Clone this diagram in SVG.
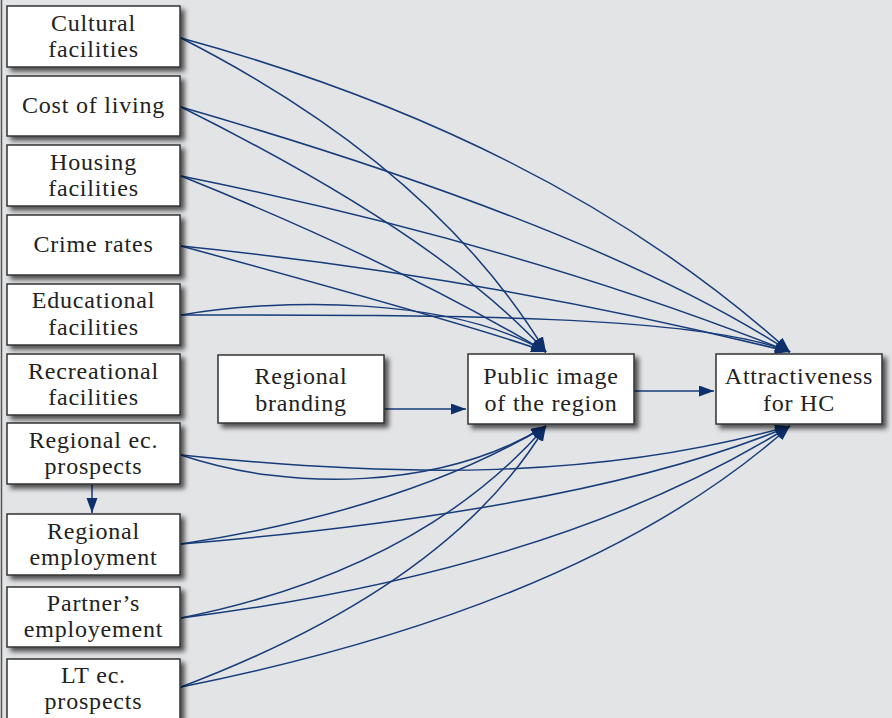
<svg xmlns="http://www.w3.org/2000/svg" width="892" height="718" viewBox="0 0 892 718">
<style>
.box{fill:#ffffff;stroke:#333333;stroke-width:1.5;filter:url(#sh)}
.t{font-size:24px;letter-spacing:0.8px;fill:#222222;text-anchor:middle}
.c{fill:none;stroke:#163c7a;stroke-width:1.5;marker-end:url(#ah)}
</style>
<defs>
<filter id="sh" x="-10%" y="-10%" width="130%" height="140%">
<feDropShadow dx="4" dy="4" stdDeviation="2.5" flood-color="#000" flood-opacity="0.65"/>
</filter>
<marker id="ah" markerUnits="userSpaceOnUse" markerWidth="16" markerHeight="12" refX="15" refY="5.5" orient="auto">
<path d="M0,0 L15,5.5 L0,11 z" fill="#0d2f6b"/>
</marker>
</defs>
<rect x="0" y="0" width="892" height="718" fill="#e3e4e6"/>
<line x1="1.5" y1="0" x2="1.5" y2="718" stroke="#555" stroke-width="1.5"/>

<g id="connectors">
<path class="c" d="M181,38 Q555,140 790,352"/>
<path class="c" d="M181,38 Q434,167 546,352"/>
<path class="c" d="M181,107 Q600,228 790,352"/>
<path class="c" d="M181,107 Q442,237 546,352"/>
<path class="c" d="M181,176 Q519,244 790,352"/>
<path class="c" d="M181,176 Q395,262 546,352"/>
<path class="c" d="M181,246 Q489,277 790,352"/>
<path class="c" d="M181,246 Q482,328 546,352"/>
<path class="c" d="M181,315 C450,315 700,315 790,352"/>
<path class="c" d="M181,315 C280,298 450,296 546,352"/>
<path class="c" d="M181,455 C400,478 600,480 790,426"/>
<path class="c" d="M181,455 C290,492 440,490 546,426"/>
<path class="c" d="M181,544 Q590,510 790,426"/>
<path class="c" d="M181,544 Q405,510 546,426"/>
<path class="c" d="M181,618 Q560,570 790,426"/>
<path class="c" d="M181,618 Q420,570 546,426"/>
<path class="c" d="M181,687 Q590,605 790,426"/>
<path class="c" d="M181,687 Q450,585 546,426"/>
<path class="c" d="M92,484 L92,513"/>
<path class="c" d="M384,409 L466,409"/>
<path class="c" d="M634,391 L714,391"/>
</g>

<g font-family="'Liberation Serif', 'Times New Roman', 'DejaVu Serif', serif">
<g id="cultural"><rect class="box" x="7" y="6" width="173" height="61"/><text class="t" x="93.5" y="31">Cultural</text><text class="t" x="93.5" y="57">facilities</text></g>
<g id="cost"><rect class="box" x="7" y="76" width="173" height="60"/><text class="t" x="93.5" y="113">Cost of living</text></g>
<g id="housing"><rect class="box" x="7" y="145" width="173" height="61"/><text class="t" x="93.5" y="170">Housing</text><text class="t" x="93.5" y="196">facilities</text></g>
<g id="crime"><rect class="box" x="7" y="215" width="173" height="60"/><text class="t" x="93.5" y="252">Crime rates</text></g>
<g id="educational"><rect class="box" x="7" y="284" width="173" height="61"/><text class="t" x="93.5" y="308">Educational</text><text class="t" x="93.5" y="335">facilities</text></g>
<g id="recreational"><rect class="box" x="7" y="354" width="173" height="61"/><text class="t" x="93.5" y="379">Recreational</text><text class="t" x="93.5" y="405">facilities</text></g>
<g id="regional-ec"><rect class="box" x="7" y="423" width="173" height="61"/><text class="t" x="93.5" y="448">Regional ec.</text><text class="t" x="93.5" y="474">prospects</text></g>
<g id="regional-employment"><rect class="box" x="7" y="514" width="173" height="61"/><text class="t" x="93.5" y="539">Regional</text><text class="t" x="93.5" y="565">employment</text></g>
<g id="partner"><rect class="box" x="7" y="587" width="173" height="60"/><text class="t" x="93.5" y="611">Partner’s</text><text class="t" x="93.5" y="637">employement</text></g>
<g id="lt"><rect class="box" x="7" y="659" width="173" height="62"/><text class="t" x="93.5" y="683">LT ec.</text><text class="t" x="93.5" y="709">prospects</text></g>
<g id="branding"><rect class="box" x="218" y="355" width="166" height="68"/><text class="t" x="301" y="384">Regional</text><text class="t" x="301" y="411">branding</text></g>
<g id="public"><rect class="box" x="468" y="354" width="166" height="70"/><text class="t" x="551" y="384">Public image</text><text class="t" x="551" y="411">of the region</text></g>
<g id="attract"><rect class="box" x="716" y="354" width="166" height="70"/><text class="t" x="799" y="384">Attractiveness</text><text class="t" x="799" y="411">for HC</text></g>
</g>
</svg>
